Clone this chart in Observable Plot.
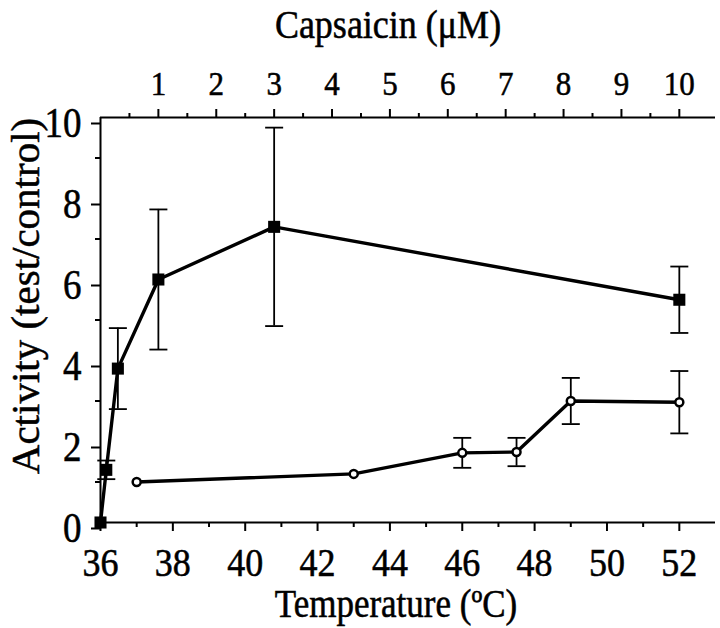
<!DOCTYPE html>
<html><head><meta charset="utf-8">
<script src="https://cdn.jsdelivr.net/npm/d3@7"></script>
<script src="https://cdn.jsdelivr.net/npm/@observablehq/plot@0.6"></script>
<style>html,body{margin:0;padding:0;background:#fff}svg{display:block}svg text{stroke:black;stroke-width:0.5px}</style>
</head><body><div id="chart"></div>
<script>
// Capsaicin dose-response (top axis, µM)
const capsaicin = [0, 0.1, 0.3, 1, 3, 10];
const capsActivity = [0, 1.3, 3.8, 6.0, 7.3, 5.5];
const capsError = [null, 0.23, 1.0, 1.73, 2.45, 0.82];
// Heat response (bottom axis, °C)
const temperature = [37, 43, 46, 47.5, 49, 52];
const tempActivity = [1.0, 1.2, 1.72, 1.74, 3.0, 2.97];
const tempError = [null, null, 0.37, 0.35, 0.57, 0.77];
// Tick values
const tempTicks = [36, 38, 40, 42, 44, 46, 48, 50, 52];
const tempMinor = [37, 39, 41, 43, 45, 47, 49, 51];
const capsTicks = [1, 2, 3, 4, 5, 6, 7, 8, 9, 10];
const capsMinor = [0.5, 1.5, 2.5, 3.5, 4.5, 5.5, 6.5, 7.5, 8.5, 9.5];
const actTicks = [0, 2, 4, 6, 8, 10];
const actMinor = [1, 3, 5, 7, 9];

// The capsaicin axis 0–10 µM spans the same width as 36–52 °C
const toT = c => 36 + c * 1.6;
const fromT = t => Math.round((t - 36) / 1.6);

const capsRows = capsaicin.map((c, i) => ({x: toT(c), y: capsActivity[i], e: capsError[i]}));
const tempRows = temperature.map((t, i) => ({x: t, y: tempActivity[i], e: tempError[i]}));
const errRows = [...capsRows, ...tempRows].filter(d => d.e != null);

const capSymbol = {draw(ctx) { ctx.moveTo(-9, 0); ctx.lineTo(9, 0); }};

const plot = Plot.plot({
  width: 720, height: 628,
  marginLeft: 100, marginRight: 5, marginTop: 117, marginBottom: 106,
  style: {fontFamily: "'Liberation Serif', 'Times New Roman', serif", background: "white", color: "black", overflow: "visible"},
  x: {domain: [36, 53], label: null},
  y: {domain: [0, 10], label: null},
  marks: [
    // frame lines
    Plot.ruleY([0, 10], {stroke: "black", strokeWidth: 2}),
    Plot.ruleX([36], {stroke: "black", strokeWidth: 2}),
    // bottom axis (temperature)
    Plot.axisX(tempTicks, {anchor: "bottom", tickSize: 9, tickPadding: 17, fontSize: 36, strokeWidth: 2, label: null}),
    Plot.axisX(tempMinor, {anchor: "bottom", tickSize: 5, tickFormat: () => "", strokeWidth: 2, label: null}),
    // top axis (capsaicin)
    Plot.axisX(capsTicks.map(toT), {anchor: "top", tickSize: 9, tickPadding: 15, fontSize: 31, strokeWidth: 2, tickFormat: fromT, label: null}),
    Plot.axisX(capsMinor.map(toT), {anchor: "top", tickSize: 5, tickFormat: () => "", strokeWidth: 2, label: null}),
    // left axis (activity)
    Plot.axisY(actTicks, {anchor: "left", tickSize: 9, tickPadding: 10, fontSize: 37, strokeWidth: 2, dy: 6, label: null}),
    Plot.axisY(actMinor, {anchor: "left", tickSize: 5, tickFormat: () => "", strokeWidth: 2, label: null}),
    // error bars
    Plot.ruleX(errRows, {x: "x", y1: d => d.y - d.e, y2: d => d.y + d.e, stroke: "black", strokeWidth: 1.8}),
    Plot.dot(errRows, {x: "x", y: d => d.y + d.e, symbol: capSymbol, fill: "none", stroke: "black", strokeWidth: 1.8}),
    Plot.dot(errRows, {x: "x", y: d => d.y - d.e, symbol: capSymbol, fill: "none", stroke: "black", strokeWidth: 1.8}),
    // lines
    Plot.line(capsRows, {x: "x", y: "y", stroke: "black", strokeWidth: 3.4}),
    Plot.line(tempRows, {x: "x", y: "y", stroke: "black", strokeWidth: 3.4}),
    // markers
    Plot.dot(capsRows, {x: "x", y: "y", symbol: "square", r: 6.8, fill: "black", stroke: "none"}),
    Plot.dot(tempRows, {x: "x", y: "y", symbol: "circle", r: 4, fill: "white", stroke: "black", strokeWidth: 2.5}),
    // axis titles
    Plot.text(["Temperature (ºC)"], {frameAnchor: "bottom", lineAnchor: "bottom", dx: -12, dy: 93, fontSize: 35}),
    Plot.text(["Capsaicin (μM)"], {frameAnchor: "top", lineAnchor: "bottom", dx: -20, dy: -81, fontSize: 36}),
    Plot.text(["Activity (test/control)"], {frameAnchor: "left", textAnchor: "middle", lineAnchor: "bottom", rotate: -90, dx: -62, dy: -24, fontSize: 41})
  ]
});

document.getElementById("chart").append(plot);

// The original typeface is slightly taller than it is wide: stretch horizontal text vertically
plot.querySelectorAll("text").forEach(t => {
  if (t.textContent.startsWith("Activity")) return;
  const b = t.getBBox();
  const cy = b.y + b.height / 2;
  const tr = t.getAttribute("transform") || "";
  t.setAttribute("transform", `${tr} translate(0,${cy}) scale(1,1.12) translate(0,${-cy})`);
});
</script>
</body></html>
